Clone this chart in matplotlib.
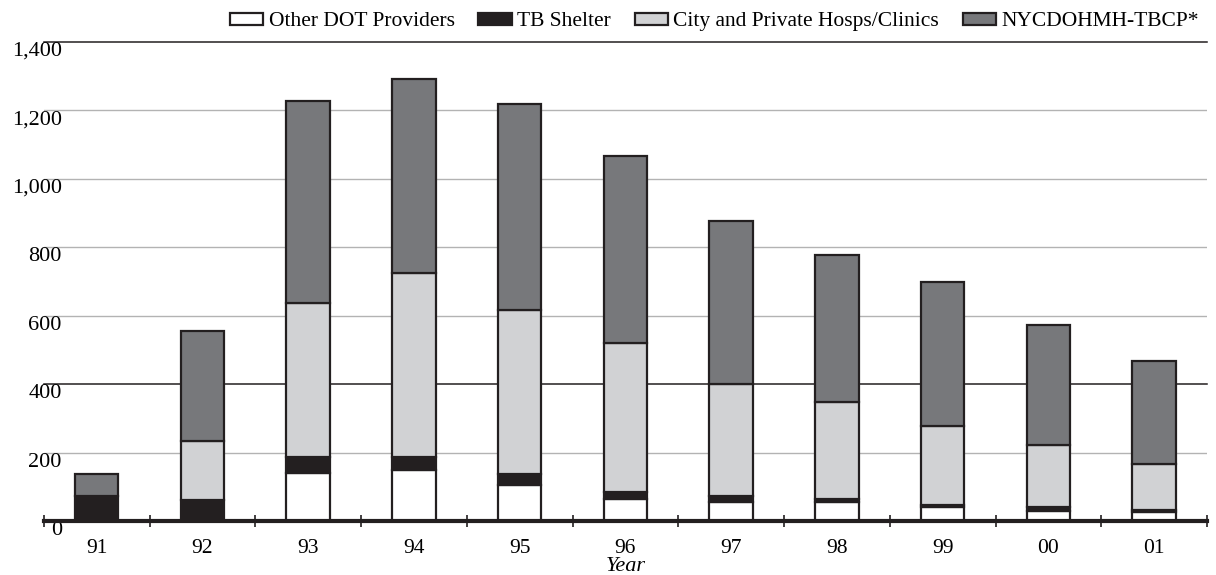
import numpy as np
import matplotlib.pyplot as plt

# ============================================
# Data
# ============================================

years = ["91", "92", "93", "94", "95", "96", "97", "98", "99", "00", "01"]

other_dot = [0, 0, 140, 149, 105, 63, 56, 56, 41, 30, 25]
tb_shelter = [73, 61, 47, 38, 32, 23, 17, 7, 6, 10, 7]
city_private = [0, 173, 450, 538, 480, 434, 327, 285, 231, 182, 135]
nycdohmh = [64, 322, 591, 567, 602, 547, 477, 430, 421, 351, 301]

legend_labels = ["Other DOT Providers", "TB Shelter",
                 "City and Private Hosps/Clinics", "NYCDOHMH-TBCP*"]
colors = ["#ffffff", "#231f20", "#d1d2d4", "#77787b"]

# ============================================
# Plot
# ============================================

plt.rcParams['font.family'] = ['Liberation Serif', 'DejaVu Serif']

fig = plt.figure(figsize=(12.16, 5.75), dpi=100)
ax = fig.add_axes([0.036, 0.094, 0.9566, 0.833])

x = np.arange(len(years))
width = 0.41
series = [other_dot, tb_shelter, city_private, nycdohmh]

bottom = np.zeros(len(years))
handles = []
for vals, col, lab in zip(series, colors, legend_labels):
    vals = np.array(vals, dtype=float)
    b = ax.bar(x, vals, width, bottom=bottom, color=col,
               edgecolor="#231f20", linewidth=1.6, label=lab, zorder=3)
    handles.append(b)
    bottom += vals

ax.set_xlim(-0.5, len(years) - 0.5)
ax.set_ylim(0, 1400)

# gridlines
for yv in [200, 600, 800, 1000, 1200]:
    ax.axhline(yv, color="#b3b3b3", linewidth=1.0, zorder=1)
for yv in [400, 1400]:
    ax.axhline(yv, color="#231f20", linewidth=1.1, zorder=1, clip_on=False)
ax.axhline(0, color="#231f20", linewidth=3, zorder=4, clip_on=False)

for s in ax.spines.values():
    s.set_visible(False)

# x ticks
ax.set_xticks(x)
ax.set_xticklabels(years, fontsize=15.5)
ax.tick_params(axis="x", length=0, pad=13)
ax.set_xticks(np.arange(-0.5, len(years)), minor=True)
ax.tick_params(axis="x", which="minor", length=8, width=1.2,
               direction="inout", color="#231f20")

# y ticks
yt = np.arange(0, 1401, 200)
ax.set_yticks(yt)
ax.set_yticklabels([f"{v:,}" for v in yt], fontsize=16)
ax.tick_params(axis="y", length=0, pad=-13)
for lbl in ax.get_yticklabels():
    lbl.set_verticalalignment("top")

ax.set_xlabel("Year", fontsize=16, style="italic", labelpad=-1)

fig.legend(handles=handles, labels=legend_labels, loc="upper right",
           bbox_to_anchor=(1.002, 1.012), ncol=4, frameon=False,
           fontsize=15.5, handlelength=1.55, handleheight=0.5,
           handletextpad=0.25, columnspacing=1.1)

plt.savefig("out.png", dpi=100)
